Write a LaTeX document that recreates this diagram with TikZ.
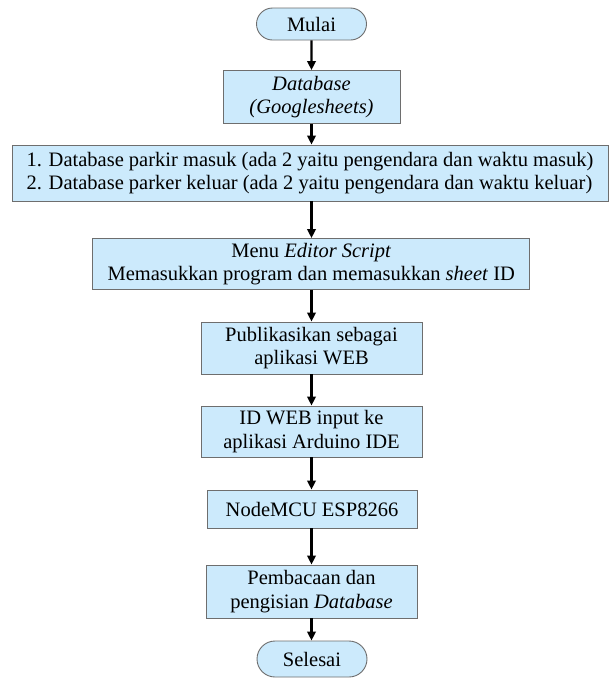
\documentclass[tikz,border=0pt]{standalone}
\usepackage{fontspec}
\setmainfont{Liberation Serif}
\usetikzlibrary{arrows.meta,shapes.misc}
\definecolor{boxblue}{RGB}{204,234,252}
\definecolor{boxline}{RGB}{110,110,110}
\tikzset{
  procbox/.style={draw=boxline, fill=boxblue, line width=0.9pt, inner sep=0pt, align=center,
    font=\fontsize{20.5}{23.5}\selectfont},
  termbox/.style={procbox, rounded rectangle},
  flowarrow/.style={line width=2.2pt, -{Triangle[length=9pt,width=8.5pt]}}
}
\begin{document}
\begin{tikzpicture}[x=1pt,y=-1pt]
\useasboundingbox[fill=white] (0,0) rectangle (611,678);
\node[termbox, minimum width=110pt, minimum height=32pt] (mulai) at (311.5,24) {Mulai};
\node[procbox, minimum width=177pt, minimum height=53pt] (db) at (311.5,97) {\textit{Database}\\\textit{(Googlesheets)}};
\node[procbox, minimum width=596pt, minimum height=56pt, align=left] (long) at (310,173) {1. Database parkir masuk (ada 2 yaitu pengendara dan waktu masuk)\\2. Database parker keluar (ada 2 yaitu pengendara dan waktu keluar)};
\node[procbox, minimum width=437pt, minimum height=51pt] (menu) at (311.3,264) {Menu \textit{Editor Script}\\Memasukkan program dan memasukkan \textit{sheet} ID};
\node[procbox, minimum width=221pt, minimum height=52pt] (pub) at (311.5,348) {Publikasikan sebagai\\aplikasi WEB};
\node[procbox, minimum width=221pt, minimum height=51pt] (idweb) at (311.5,431.5) {ID WEB input ke\\aplikasi Arduino IDE};
\node[procbox, minimum width=210pt, minimum height=38pt] (mcu) at (312,509) {NodeMCU ESP8266};
\node[procbox, minimum width=211pt, minimum height=53pt] (pemb) at (311.5,591.5) {Pembacaan dan\\pengisian \textit{Database}};
\node[termbox, minimum width=110pt, minimum height=36pt] (selesai) at (312,659) {Selesai};
\draw[flowarrow] (mulai) -- (db);
\draw[flowarrow] (db.south) -- (db.south |- long.north);
\draw[flowarrow] (db.south |- long.south) -- (db.south |- menu.north);
\draw[flowarrow] (db.south |- menu.south) -- (db.south |- pub.north);
\draw[flowarrow] (pub) -- (idweb);
\draw[flowarrow] (idweb) -- (idweb |- mcu.north);
\draw[flowarrow] (idweb |- mcu.south) -- (idweb |- pemb.north);
\draw[flowarrow] (pemb) -- (pemb |- selesai.north);
\end{tikzpicture}
\end{document}
